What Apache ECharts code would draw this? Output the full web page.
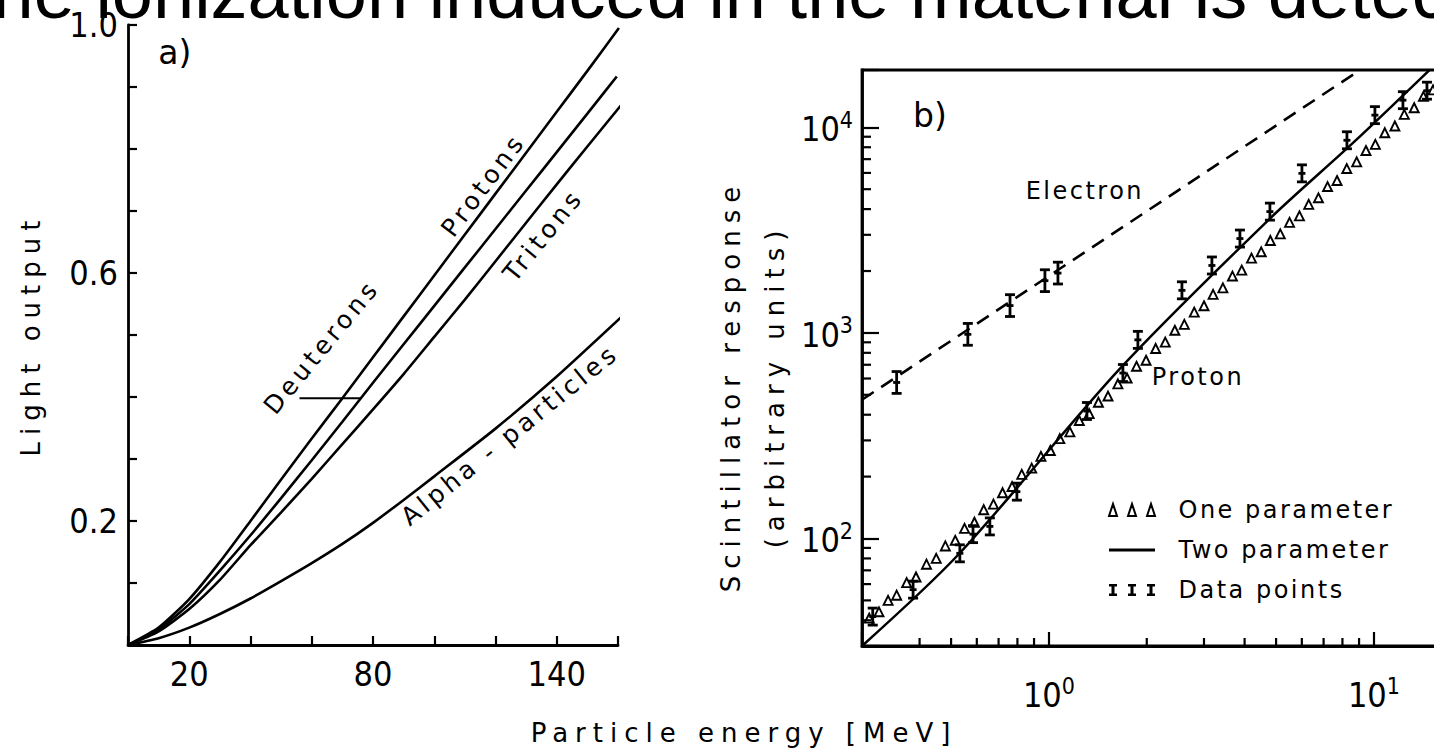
<!DOCTYPE html>
<html>
<head>
<meta charset="utf-8">
<script src="https://cdn.jsdelivr.net/npm/echarts@6/dist/echarts.min.js"></script>
<style>
  html, body { margin: 0; padding: 0; background: #fff; }
  #main { width: 1434px; height: 754px; }
  /* widely tracked lettering, keyed on the text sizes used below */
  #main text[style*="26px"] { letter-spacing: 7px; }
  #main text[style*="25px"] { letter-spacing: 4px; }
  #main text[style*="24px"] { letter-spacing: 2.5px; }
</style>
</head>
<body>
<div id="main"></div>
<script>
// ---------- (a) light output vs particle energy [MeV] ----------
const energyLabelsA = [20, 80, 140];
const lightLabels = ['0.2', '0.6', '1.0'];
const protons = [[0,0],[10,0.028],[20,0.074],[30,0.134],[40,0.200],[50,0.267],[60,0.333],[70,0.398],[80,0.464],[90,0.530],[100,0.596],[110,0.662],[120,0.728],[130,0.794],[140,0.860],[150,0.926],[160.3,0.995]];
const deuterons = [[0,0],[10,0.025],[20,0.066],[30,0.120],[40,0.177],[50,0.237],[60,0.298],[70,0.360],[80,0.423],[90,0.485],[100,0.547],[110,0.609],[120,0.671],[130,0.733],[140,0.795],[150,0.857],[159.6,0.917]];
const tritons = [[0,0],[10,0.022],[20,0.058],[30,0.105],[40,0.161],[50,0.214],[60,0.268],[70,0.324],[80,0.380],[90,0.437],[100,0.497],[110,0.557],[120,0.619],[130,0.681],[140,0.743],[150,0.804],[161.7,0.875]];
const alphas = [[0,0],[10,0.011],[20,0.028],[30,0.050],[40,0.075],[50,0.103],[60,0.132],[70,0.163],[80,0.197],[90,0.234],[100,0.272],[120,0.349],[140,0.433],[161,0.5285]];
const deuteronLeader = [[56,0.398],[76,0.398]];

// ---------- (b) scintillator response vs energy [MeV], log-log ----------
const energyExpB = [0, 1];
const responseExp = [2, 3, 4];
const energyMinorB = [0.4,0.5,0.6,0.7,0.8,0.9,2,3,4,5,6,7,8,9];
const responseMinor = [40,50,60,70,80,90,200,300,400,500,600,700,800,900,2000,3000,4000,5000,6000,7000,8000,9000];
const energyRangeB = [0.266, 30];
const responseRange = [30, 19000];
const electronFit = [[0.266,473],[9.06,19000]];
// [energy, response, relative error]
const electronPoints = [[0.340,574,0.13],[0.563,984,0.13],[0.759,1358,0.13],[0.972,1795,0.13],[1.066,1954,0.13]];
const protonFit = [[0.266,30],[0.532,85],[1.654,670],[4.786,3600],[8.62,8400],[14.87,19100]];
const protonOneParam = [[0.28,41],[0.30,44],[0.32,50],[0.34,53],[0.365,61],[0.39,65],[0.42,75],[0.45,80],[0.48,92],[0.515,98],[0.55,112],[0.59,120],[0.63,138],[0.675,147],[0.72,167],[0.77,179],[0.825,205],[0.885,220],[0.945,251],[1.01,268],[1.08,306],[1.16,330],[1.24,375],[1.33,405],[1.42,460],[1.52,493],[1.63,565],[1.74,603],[1.86,688],[1.99,736],[2.13,840],[2.28,902],[2.44,1030],[2.61,1100],[2.8,1262],[3.0,1355],[3.2,1540],[3.43,1655],[3.67,1890],[3.92,2020],[4.2,2310],[4.5,2480],[4.8,2815],[5.15,3030],[5.5,3450],[5.9,3710],[6.3,4220],[6.75,4540],[7.2,5150],[7.7,5510],[8.25,6300],[8.85,6790],[9.45,7710],[10.1,8260],[10.8,9410],[11.6,10150],[12.4,11560],[13.3,12450],[14.2,14150],[15.2,15200]];
const protonPoints = [[0.287,41.7,0.10],[0.382,56.4,0.10],[0.532,84.7,0.10],[0.584,105,0.10],[0.658,114.5,0.10],[0.797,169,0.10],[1.309,417,0.10],[1.689,638,0.10],[1.878,925,0.10],[2.566,1611,0.10],[3.173,2128,0.10],[3.870,2877,0.10],[4.786,3890,0.10],[6.004,5970,0.10],[8.259,8650,0.10],[10.07,11460,0.10],[12.28,13550,0.10],[14.56,15070,0.10]];

// ---------- styling ----------
const BLACK = '#000';
const FONT = '"DejaVu Sans", sans-serif';
const TICK_FONT = '"DejaVu Sans Condensed", "DejaVu Sans", sans-serif';
const axisLine = { lineStyle: { color: BLACK, width: 2.8 } };
const tickStyle = { color: BLACK, width: 2.2 };

function powerLabel(allowed) {
  return function (v) {
    const lg = Math.log10(v);
    const e = Math.round(lg);
    if (Math.abs(lg - e) > 1e-6 || allowed.indexOf(e) < 0) return '';
    return '{b|10}{s|' + e + '}';
  };
}
const powerRich = {
  b: { fontSize: 34, fontFamily: TICK_FONT, color: BLACK, lineHeight: 38, verticalAlign: 'bottom' },
  s: { fontSize: 23, fontFamily: TICK_FONT, color: BLACK, lineHeight: 23, verticalAlign: 'top' }
};

// error bar with end caps and a centre mark
function errorBar(params, api) {
  const x = api.value(0), v = api.value(1), f = api.value(2);
  const c = api.coord([x, v]);
  const hi = api.coord([x, v * (1 + f)]);
  const lo = api.coord([x, v / (1 + f)]);
  const w = 5;
  const st = { stroke: BLACK, lineWidth: 2.8 };
  return {
    type: 'group',
    children: [
      { type: 'line', shape: { x1: c[0], y1: hi[1], x2: c[0], y2: lo[1] }, style: st },
      { type: 'line', shape: { x1: c[0] - w, y1: hi[1], x2: c[0] + w, y2: hi[1] }, style: st },
      { type: 'line', shape: { x1: c[0] - w, y1: lo[1], x2: c[0] + w, y2: lo[1] }, style: st },
      { type: 'line', shape: { x1: c[0] - 3.5, y1: c[1], x2: c[0] + 3.5, y2: c[1] }, style: st }
    ]
  };
}
// short inward minor ticks for the log axes of panel (b)
function minorTickY(params, api) {
  const c = api.coord([api.value(0), api.value(1)]);
  return { type: 'line', shape: { x1: c[0], y1: c[1], x2: c[0] + 9, y2: c[1] }, style: { stroke: BLACK, lineWidth: 2.2 } };
}
function minorTickX(params, api) {
  const c = api.coord([api.value(0), api.value(1)]);
  return { type: 'line', shape: { x1: c[0], y1: c[1], x2: c[0], y2: c[1] - 8 }, style: { stroke: BLACK, lineWidth: 2.2 } };
}

function curve(data) {
  return {
    type: 'line', xAxisIndex: 0, yAxisIndex: 0, data: data,
    symbol: 'none', smooth: 0.2, clip: false, silent: true,
    lineStyle: { color: BLACK, width: 2.6 }
  };
}

const chart = echarts.init(document.getElementById('main'), null, { renderer: 'svg' });

chart.setOption({
  animation: false,
  color: [BLACK],
  grid: [
    { left: 128, top: 25, width: 490, height: 620, containLabel: false, outerBoundsMode: 'none' },
    { left: 862, top: 70, width: 667, height: 576, containLabel: false, outerBoundsMode: 'none',
      show: true, borderColor: BLACK, borderWidth: 2.8, backgroundColor: 'rgba(0,0,0,0)' }
  ],
  xAxis: [
    {
      type: 'value', gridIndex: 0, min: 0, max: 160, interval: 20,
      axisLine: axisLine, splitLine: { show: false },
      axisTick: { inside: true, length: 9, lineStyle: tickStyle },
      axisLabel: {
        margin: 12, color: BLACK, fontSize: 34, fontFamily: TICK_FONT,
        formatter: v => (energyLabelsA.indexOf(v) >= 0 ? String(v) : '')
      }
    },
    {
      type: 'log', logBase: 10, gridIndex: 1, min: energyRangeB[0], max: energyRangeB[1],
      axisLine: axisLine, splitLine: { show: false },
      axisTick: { inside: true, length: 14, lineStyle: tickStyle },
      axisLabel: { margin: 28, color: BLACK, formatter: powerLabel(energyExpB), rich: powerRich }
    }
  ],
  yAxis: [
    {
      type: 'value', gridIndex: 0, min: 0, max: 1, interval: 0.1,
      axisLine: axisLine, splitLine: { show: false },
      axisTick: { inside: true, length: 9, lineStyle: tickStyle },
      axisLabel: {
        margin: 10, color: BLACK, fontSize: 34, fontFamily: TICK_FONT,
        formatter: v => { const s = v.toFixed(1); return lightLabels.indexOf(s) >= 0 ? s : ''; }
      },
      name: 'Light output', nameLocation: 'middle', nameRotate: 90, nameGap: 82,
      nameTextStyle: { fontSize: 26, fontFamily: FONT, color: BLACK, lineHeight: 30 }
    },
    {
      type: 'log', logBase: 10, gridIndex: 1, min: responseRange[0], max: responseRange[1],
      axisLine: axisLine, splitLine: { show: false },
      axisTick: { inside: true, length: 17, lineStyle: tickStyle },
      axisLabel: { margin: 9, color: BLACK, formatter: powerLabel(responseExp), rich: powerRich },
      name: 'Scintillator response\n(arbitrary units)', nameLocation: 'middle', nameRotate: 90, nameGap: 61,
      nameTextStyle: { fontSize: 26, fontFamily: FONT, color: BLACK, lineHeight: 44, padding: [0, 56, 0, 0] }
    }
  ],
  legend: {
    left: 1103, top: 493, orient: 'vertical', selectedMode: false,
    itemWidth: 47, itemHeight: 12, itemGap: 16,
    textStyle: { fontSize: 24, fontFamily: FONT, color: BLACK, padding: [0, 0, 0, 18] },
    data: [
      { name: 'One parameter', icon: 'path://M0,12L4,0L8,12Z M19,12L23,0L27,12Z M38,12L42,0L46,12Z',
        itemStyle: { color: 'rgba(0,0,0,0)', borderColor: BLACK, borderWidth: 2 } },
      { name: 'Two parameter', icon: 'path://M0,0M0,4.5H46V7.5H0ZM46,12',
        itemStyle: { color: BLACK } },
      { name: 'Data points', icon: 'path://M0,0H8V2.5H5.5V9.5H8V12H0V9.5H2.5V2.5H0Z M19,0H27V2.5H24.5V9.5H27V12H19V9.5H21.5V2.5H19Z M38,0H46V2.5H43.5V9.5H46V12H38V9.5H40.5V2.5H38Z' }
    ]
  },
  series: [
    curve(protons),
    curve(deuterons),
    curve(tritons),
    curve(alphas),
    Object.assign(curve(deuteronLeader), { smooth: false, lineStyle: { color: BLACK, width: 2.2 } }),
    {
      type: 'line', xAxisIndex: 1, yAxisIndex: 1, data: electronFit, symbol: 'none', silent: true,
      lineStyle: { color: BLACK, width: 2.6, type: [14, 9] }
    },
    {
      name: 'Two parameter', type: 'line', xAxisIndex: 1, yAxisIndex: 1, data: protonFit,
      symbol: 'none', smooth: 0.3, silent: true, lineStyle: { color: BLACK, width: 2.5 }
    },
    {
      name: 'One parameter', type: 'scatter', xAxisIndex: 1, yAxisIndex: 1, data: protonOneParam,
      symbol: 'triangle', symbolSize: 9, silent: true,
      itemStyle: { color: 'rgba(0,0,0,0)', borderColor: BLACK, borderWidth: 1.9, opacity: 1 }
    },
    {
      name: 'Data points', type: 'custom', xAxisIndex: 1, yAxisIndex: 1, data: electronPoints,
      encode: { x: 0, y: 1 }, renderItem: errorBar, silent: true, itemStyle: { color: BLACK }
    },
    {
      name: 'Data points', type: 'custom', xAxisIndex: 1, yAxisIndex: 1, data: protonPoints,
      encode: { x: 0, y: 1 }, renderItem: errorBar, silent: true, itemStyle: { color: BLACK }
    },
    {
      type: 'custom', xAxisIndex: 1, yAxisIndex: 1, silent: true,
      data: responseMinor.map(v => [energyRangeB[0], v]), encode: { x: 0, y: 1 }, renderItem: minorTickY
    },
    {
      type: 'custom', xAxisIndex: 1, yAxisIndex: 1, silent: true,
      data: energyMinorB.map(v => [v, responseRange[0]]), encode: { x: 0, y: 1 }, renderItem: minorTickX
    }
  ]
});

// annotations anchored in data coordinates of each panel
function at(grid, point) { return chart.convertToPixel({ gridIndex: grid }, point); }
function note(text, grid, point, size, angleDeg) {
  const p = at(grid, point);
  return {
    type: 'text', x: p[0], y: p[1], rotation: (angleDeg || 0) * Math.PI / 180, silent: true,
    style: {
      text: text, font: size + 'px "DejaVu Sans"', fill: BLACK,
      align: 'center', verticalAlign: 'middle', textAlign: 'center', textVerticalAlign: 'middle'
    }
  };
}

chart.setOption({
  graphic: [
    {
      type: 'text', x: -28, y: -8, silent: true,
      style: {
        text: 'the ionization induced in the material is detected',
        font: '74px "Liberation Sans"', fill: BLACK,
        align: 'left', verticalAlign: 'middle', textAlign: 'left', textVerticalAlign: 'middle'
      }
    },
    note('a)', 0, [15.3, 0.956], 33),
    note('Protons', 0, [116, 0.742], 25, 53),
    note('Tritons', 0, [135.6, 0.661], 25, 51),
    note('Deuterons', 0, [63.2, 0.481], 25, 50.5),
    note('Alpha - particles', 0, [124.7, 0.339], 25, 39),
    note('b)', 1, [0.4305, 11380], 33),
    note('Electron', 1, [1.29, 4910], 24),
    note('Proton', 1, [2.874, 611], 24),
    {
      type: 'text', x: 744, y: 733, silent: true,
      style: {
        text: 'Particle energy [MeV]', font: '26px "DejaVu Sans"', fill: BLACK,
        align: 'center', verticalAlign: 'middle', textAlign: 'center', textVerticalAlign: 'middle'
      }
    }
  ]
});
</script>
</body>
</html>
